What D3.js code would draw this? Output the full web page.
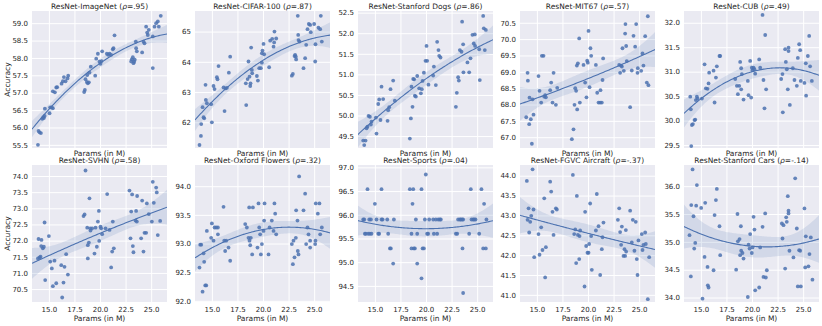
<!DOCTYPE html>
<html>
<head>
<meta charset="utf-8">
<script src="https://cdn.jsdelivr.net/npm/d3@7"></script>
<style>
  body { margin: 0; background: #fff; }
  text { font-family: "DejaVu Sans", sans-serif; fill: #262626; }
</style>
</head>
<body>
<svg id="chart" width="822" height="326"></svg>
<script>
// ---- data: [params (M), accuracy] per dataset ----
const datasetNames = ["ImageNet", "CIFAR-100", "Stanford Dogs", "MIT67", "CUB",
  "SVHN", "Oxford Flowers", "Sports", "FGVC Aircraft", "Stanford Cars"];
const rhoLabels = [".95", ".87", ".86", ".57", ".49", ".58", ".32", ".04", "-.37", "-.14"];

const imagenet = [[13.93,55.50],[13.99,55.90],[14.09,55.86],[14.22,55.84],[14.35,56.25],[14.45,56.30],[14.51,56.27],[14.58,56.33],[14.61,56.54],
  [15.07,56.41],[15.13,56.58],[15.29,56.58],[15.39,56.55],[15.39,57.04],[15.59,57.01],[15.72,57.15],[15.81,57.16],
  [16.24,57.26],[16.37,57.33],[16.47,57.45],[16.63,57.33],[16.82,57.41],[16.89,57.49],
  [18.45,57.02],[18.52,57.08],[18.58,57.39],[18.71,57.31],[18.81,57.27],[18.75,57.51],[18.97,57.58],[18.91,57.30],[19.53,57.49],[19.10,57.75],
  [19.63,57.98],[19.79,58.12],[19.95,57.89],[20.05,57.83],[20.21,58.19],[20.15,57.91],
  [20.67,58.12],[20.80,58.09],[20.93,58.12],[21.09,58.09],[21.25,58.25],[21.32,58.28],[21.42,58.65],
  [23.05,57.90],[23.11,57.96],[23.21,58.02],[23.27,57.85],[23.34,57.89],[23.40,57.95],[23.53,58.28],[23.60,58.19],[23.50,58.47],
  [24.12,58.16],[24.25,58.47],[24.35,58.42],[24.51,58.90],[24.67,58.66],[24.77,58.81],[24.61,58.73],
  [25.16,57.71],[25.16,58.62],[25.33,58.90],[25.49,59.00],[25.65,59.05],[25.75,58.90],[25.94,59.21]];

const cifar100 = [[13.79,61.25],[13.93,61.55],[13.96,61.94],[14.09,62.50],[14.19,62.17],[14.25,62.13],[14.41,62.74],[14.51,62.63],[14.38,63.24],
  [14.93,62.60],[15.00,62.00],[15.16,63.20],[15.26,63.10],[15.49,63.49],[15.55,63.42],[15.65,63.86],[16.14,63.15],[16.24,62.37],[16.34,63.12],[16.47,63.14],[16.66,63.64],[16.79,64.17],
  [18.36,62.57],[18.32,63.29],[18.49,63.43],[18.68,63.51],[18.75,63.20],[18.78,63.29],[18.58,64.01],[18.91,63.73],[18.94,63.62],[18.84,64.47],
  [19.40,63.53],[19.50,63.38],[19.63,63.79],[19.79,63.79],[19.89,63.97],[19.89,64.28],[19.95,64.37],[20.05,64.59],[20.11,64.25],
  [20.60,63.82],[20.70,64.70],[20.90,64.76],[21.09,64.64],[21.12,65.00],[21.29,64.77],[21.03,64.50],
  [22.82,63.54],[22.92,63.60],[23.08,64.19],[23.14,64.23],[23.21,64.17],[23.24,64.08],[23.40,65.52],[23.44,64.89],[23.47,64.72],[23.57,64.67],
  [23.96,63.79],[24.12,64.12],[24.22,64.56],[24.35,65.08],[24.48,65.25],[24.61,65.22],[24.67,64.98],
  [25.00,65.25],[25.10,64.01],[25.13,64.58],[25.42,65.13],[25.59,65.08],[25.65,65.52],[25.75,64.67]];

const stanfordDogs = [[13.86,49.39],[13.96,49.28],[14.09,49.39],[14.19,49.69],[14.28,49.73],[14.38,49.99],[14.51,49.97],[14.61,49.78],[14.67,49.85],
  [15.16,49.56],[15.10,49.95],[15.33,50.28],[15.42,50.39],[15.55,49.89],[15.65,50.70],[15.81,50.40],[16.24,49.87],[16.30,50.13],[16.40,50.20],[16.53,50.64],[16.79,50.85],[16.95,50.36],
  [18.42,49.44],[18.52,49.93],[18.68,50.21],[18.58,50.70],[18.75,50.89],[18.84,50.88],[18.91,50.48],[19.01,50.46],[19.14,50.96],[19.33,50.66],
  [19.50,50.54],[19.59,50.64],[19.66,50.84],[19.79,51.04],[19.95,51.33],[20.11,51.33],[20.05,51.69],[20.24,50.75],
  [20.70,50.97],[20.77,51.19],[20.96,50.74],[21.09,51.79],[21.22,51.59],[21.29,51.45],[21.42,51.41],
  [22.92,50.21],[23.01,50.55],[23.14,50.93],[23.21,50.85],[23.31,51.59],[23.47,51.55],[23.53,52.28],[23.63,51.73],[23.66,51.05],
  [24.05,51.29],[24.22,51.05],[24.35,51.39],[24.54,51.96],[24.67,51.75],[24.77,51.97],[24.80,51.69],
  [25.20,51.61],[25.26,50.86],[25.59,52.42],[25.65,52.12],[25.85,52.08],[25.75,51.59]];

const mit67 = [[13.96,67.61],[14.09,68.97],[14.12,68.73],[14.25,67.40],[14.28,68.21],[14.41,67.55],[14.51,66.80],[14.58,68.16],[14.67,67.69],
  [15.16,68.87],[15.26,68.42],[15.42,68.06],[15.49,69.49],[15.65,69.49],[15.72,68.24],[15.81,68.29],[15.88,68.22],[16.30,68.44],[16.40,68.67],[16.53,68.06],[16.63,68.97],[16.86,67.99],[16.99,68.51],
  [18.42,66.94],[18.58,67.24],[18.68,67.99],[18.75,68.50],[18.84,68.42],[18.94,67.85],[18.91,69.19],[19.01,69.26],[19.14,70.02],[19.20,68.06],
  [19.56,69.21],[19.72,68.67],[19.85,68.22],[19.92,69.34],[19.98,69.28],[20.05,70.25],[20.15,68.53],[20.24,69.72],[20.31,69.49],
  [20.77,69.21],[20.90,68.36],[21.03,68.06],[21.19,68.06],[21.35,68.06],[21.22,68.44],[21.42,68.75],[21.48,69.41],
  [23.05,69.21],[23.14,68.97],[23.24,69.19],[23.31,69.16],[23.37,69.72],[23.50,69.03],[23.63,70.17],[23.66,70.46],[23.73,69.79],[23.79,69.33],
  [24.12,67.92],[24.28,69.04],[24.45,70.10],[24.61,69.77],[24.71,70.46],[24.84,68.97],[24.87,69.11],
  [25.20,69.03],[25.33,69.56],[25.42,69.19],[25.59,70.09],[25.75,68.67],[25.91,68.59],[25.85,70.70]];

const cub = [[13.96,30.49],[14.02,30.23],[14.06,29.48],[14.12,29.91],[14.22,29.93],[14.38,30.01],[14.45,30.02],[14.51,30.42],[14.61,30.49],[14.67,30.45],
  [15.10,30.45],[15.36,31.15],[15.49,30.66],[15.65,30.65],[15.75,30.76],[15.81,30.98],[16.24,31.02],[16.34,30.37],[16.47,30.88],[16.56,31.11],[16.82,31.32],[16.89,31.32],
  [18.36,30.85],[18.52,30.71],[18.62,30.54],[18.75,30.71],[18.84,31.20],[18.94,30.64],[18.94,31.07],[19.01,30.95],[19.17,30.43],
  [19.59,30.81],[19.66,30.52],[19.82,31.22],[19.92,30.47],[19.98,31.08],[20.05,31.03],[20.15,31.08],[20.24,31.05],[20.31,30.96],
  [20.70,31.25],[20.80,31.08],[21.03,32.16],[21.12,30.83],[21.29,31.75],[21.38,30.64],[21.22,30.25],
  [22.85,30.85],[22.98,30.95],[23.01,30.17],[23.24,31.46],[23.31,31.20],[23.40,31.05],[23.50,30.64],[23.57,31.49],[23.57,31.42],[23.70,30.32],
  [23.99,31.07],[24.15,30.83],[24.38,30.71],[24.48,31.28],[24.61,31.56],[24.71,31.44],[24.77,30.81],
  [25.13,30.77],[25.26,31.17],[25.29,30.51],[25.46,31.32],[25.59,31.73],[25.68,31.11],[25.85,30.81]];

const svhn = [[13.93,71.45],[13.99,72.05],[14.09,71.48],[14.19,71.50],[14.25,71.83],[14.28,72.02],[14.41,71.76],[14.51,71.81],[14.58,72.56],[14.64,70.78],
  [15.00,72.14],[15.13,71.35],[15.29,71.14],[15.39,70.59],[15.55,71.38],[15.72,70.68],[16.21,71.24],[16.30,70.24],[16.43,70.70],[16.53,71.19],[16.69,71.58],[16.86,70.95],
  [18.39,72.76],[18.49,72.81],[18.58,74.17],[18.75,72.40],[18.81,71.45],[18.81,71.86],[18.91,71.94],[18.97,73.31],[19.04,72.38],[19.07,72.31],[19.23,72.38],
  [19.46,71.60],[19.56,72.40],[19.69,71.81],[19.79,72.59],[19.89,72.92],[19.92,71.99],[20.05,72.43],[20.11,72.38],[20.21,72.20],
  [20.54,72.38],[20.70,73.44],[20.93,72.33],[21.09,71.17],[21.19,71.66],[21.25,72.59],[21.35,71.76],
  [22.88,73.55],[22.98,72.07],[23.05,72.90],[23.14,73.43],[23.21,71.83],[23.27,71.64],[23.47,72.62],[23.60,72.59],[23.53,72.92],[23.63,73.38],
  [24.02,72.07],[24.12,73.24],[24.25,71.66],[24.35,72.24],[24.51,72.24],[24.58,73.15],[24.77,72.82],
  [25.07,72.59],[25.16,73.82],[25.26,73.17],[25.49,73.64],[25.55,73.49],[25.65,72.17],[25.88,72.61]];

const oxfordFlowers = [[13.79,92.58],[13.86,92.98],[13.96,92.98],[14.09,92.16],[14.19,92.83],[14.25,92.68],[14.35,92.27],[14.45,92.27],[14.51,93.22],
  [14.93,93.10],[15.00,93.35],[15.16,93.05],[15.26,93.28],[15.42,93.28],[15.59,93.28],[15.59,93.16],[16.14,93.64],[16.21,93.05],[16.30,92.87],[16.40,93.05],[16.63,92.93],[16.79,92.70],
  [18.26,93.34],[18.42,93.28],[18.58,93.10],[18.65,93.63],[18.68,93.05],[18.75,92.97],[18.81,93.10],[18.94,92.81],[19.01,93.63],
  [19.46,92.93],[19.56,93.70],[19.63,93.28],[19.72,93.16],[19.79,92.81],[19.89,92.99],[20.05,93.22],[20.11,93.40],[20.15,93.70],
  [20.54,92.81],[20.64,93.28],[20.86,93.40],[21.03,93.22],[21.12,93.70],[21.19,93.52],[21.29,93.16],
  [22.82,92.99],[22.92,92.64],[22.98,93.05],[23.08,92.76],[23.21,93.10],[23.24,93.58],[23.37,93.40],[23.40,92.87],[23.47,92.81],[23.53,94.17],
  [23.96,93.58],[24.12,93.87],[24.22,92.99],[24.35,93.28],[24.45,93.16],[24.61,93.05],[24.61,92.93],
  [25.10,92.99],[25.13,93.05],[25.16,93.70],[25.36,93.52],[25.52,93.70],[25.59,93.16],[25.75,93.28]];

const sports = [[13.86,95.90],[13.96,95.90],[14.02,95.60],[14.12,95.60],[14.28,96.54],[14.35,95.60],[14.45,95.90],[14.51,95.60],[14.61,95.90],[14.67,95.60],
  [15.00,96.23],[15.16,95.90],[15.33,95.60],[15.42,95.60],[15.65,96.54],[15.65,95.90],[15.75,95.90],[16.21,95.90],[16.30,95.60],[16.47,95.29],[16.56,95.29],[16.79,94.97],[16.86,95.90],
  [18.42,96.54],[18.58,95.29],[18.58,95.60],[18.68,96.23],[18.75,96.54],[18.81,95.29],[18.91,95.29],[19.01,95.90],[19.14,94.97],[19.14,95.60],
  [19.56,96.54],[19.56,94.66],[19.66,95.29],[19.79,95.29],[19.89,95.90],[19.98,96.85],[20.11,95.60],[20.21,95.60],[20.31,95.90],
  [20.70,95.90],[20.77,95.60],[20.96,95.90],[21.09,95.60],[21.19,95.90],[21.35,95.90],[21.45,95.90],
  [22.92,95.60],[23.05,95.60],[23.14,95.90],[23.31,95.90],[23.40,95.90],[23.53,95.90],[23.63,95.90],[23.57,95.29],[23.63,94.35],
  [24.22,95.60],[24.38,96.54],[24.45,95.90],[24.61,95.90],[24.71,95.90],[24.84,95.90],
  [25.20,95.60],[25.42,96.54],[25.59,95.29],[25.68,96.23],[25.85,95.29],[25.91,95.90]];

const fgvcAircraft = [[14.02,43.87],[14.09,42.89],[14.19,43.18],[14.25,42.57],[14.35,42.84],[14.45,42.99],[14.58,44.16],[14.67,43.15],[14.74,41.95],
  [15.16,42.53],[15.26,42.01],[15.42,42.70],[15.55,42.13],[15.72,43.43],[15.81,41.44],[15.88,42.20],[16.30,43.85],[16.40,43.60],[16.53,43.09],[16.63,42.51],[16.86,43.18],[16.95,43.15],
  [18.52,44.02],[18.65,42.53],[18.75,42.65],[18.84,41.80],[18.91,43.49],[19.01,42.51],[19.14,41.90],[19.17,42.48],[19.23,42.62],
  [19.66,41.21],[19.72,43.09],[19.82,42.23],[19.95,42.06],[20.05,42.06],[20.11,42.28],[20.21,43.30],[20.31,42.48],[20.37,41.63],
  [20.77,42.62],[20.86,43.54],[21.03,42.73],[21.19,41.50],[21.35,42.15],[21.42,42.45],[21.51,42.82],
  [22.92,42.89],[23.05,43.18],[23.14,42.58],[23.24,42.26],[23.31,42.72],[23.47,41.98],[23.57,42.15],[23.63,41.98],[23.70,42.63],[23.73,42.09],
  [24.12,43.12],[24.28,42.32],[24.38,42.89],[24.54,42.11],[24.67,42.84],[24.77,41.90],[24.84,41.50],[24.93,42.37],
  [25.26,42.53],[25.33,42.13],[25.42,42.26],[25.59,42.57],[25.65,42.28],[25.85,40.89],[25.98,41.95]];

const stanfordCars = [[13.89,35.12],[14.02,34.38],[14.06,35.66],[14.19,36.30],[14.28,35.46],[14.35,34.88],[14.45,34.98],[14.54,35.65],[14.61,36.02],
  [15.03,35.61],[15.16,33.98],[15.36,34.73],[15.42,35.70],[15.65,34.55],[15.68,34.22],[15.75,34.18],[16.24,34.49],[16.34,35.48],[16.47,35.75],[16.56,35.95],[16.82,35.28],[16.89,34.76],
  [18.45,34.50],[18.58,35.50],[18.62,35.01],[18.78,35.05],[18.84,34.76],[18.91,35.28],[18.94,34.84],[19.07,34.80],[19.17,34.70],
  [19.59,34.01],[19.66,34.95],[19.76,34.88],[19.82,35.14],[19.98,34.80],[20.05,34.90],[20.15,35.45],[20.24,35.22],[20.31,34.13],
  [20.80,34.90],[20.70,34.18],[21.03,35.27],[21.12,34.37],[21.29,35.51],[21.35,34.36],[21.45,34.49],
  [22.92,35.33],[22.98,35.06],[23.08,35.30],[23.24,34.52],[23.34,35.44],[23.40,35.36],[23.50,35.82],[23.57,35.56],[23.57,35.51],[23.66,34.84],
  [24.05,34.72],[24.22,36.14],[24.38,35.24],[24.48,34.20],[24.61,34.85],[24.71,34.84],[24.77,34.20],
  [25.13,35.60],[25.20,34.54],[25.26,35.10],[25.52,34.56],[25.62,34.78],[25.75,35.08],[25.91,34.32]];

const panelData = [imagenet, cifar100, stanfordDogs, mit67, cub, svhn, oxfordFlowers, sports, fgvcAircraft, stanfordCars];

// axis settings
const xTicks = [15, 17.5, 20, 22.5, 25];
const xDomain = [13.35, 26.55];
const yDomains = [[55.41,59.35],[61.15,65.68],[49.21,52.54],[66.67,70.86],[29.44,32.24],
  [70.10,74.34],[91.98,94.37],[94.16,97.05],[40.82,44.27],[33.92,36.38]];
const yTicks = [
  [55.5,56,56.5,57,57.5,58,58.5,59],
  [62,63,64,65],
  [49.5,50,50.5,51,51.5,52,52.5],
  [67,67.5,68,68.5,69,69.5,70,70.5],
  [29.5,30,30.5,31,31.5,32],
  [70.5,71,71.5,72,72.5,73,73.5,74],
  [92,92.5,93,93.5,94],
  [94.5,95,95.5,96,96.5,97],
  [41,41.5,42,42.5,43,43.5,44],
  [34,34.5,35,35.5,36]
];
const yFormats = [".1f", "d", ".1f", ".1f", ".1f", ".1f", ".1f", ".1f", ".1f", ".1f"];
const fitOrder = 2;

// ---- least squares polynomial fit with 95% CI ----
function invert(M) {
  const n = M.length;
  const A = M.map((r, i) => r.concat(d3.range(n).map(j => (i === j ? 1 : 0))));
  for (let c = 0; c < n; c++) {
    let p = c;
    for (let r = c + 1; r < n; r++) if (Math.abs(A[r][c]) > Math.abs(A[p][c])) p = r;
    [A[c], A[p]] = [A[p], A[c]];
    const piv = A[c][c];
    for (let j = 0; j < 2 * n; j++) A[c][j] /= piv;
    for (let r = 0; r < n; r++) {
      if (r === c) continue;
      const f = A[r][c];
      for (let j = 0; j < 2 * n; j++) A[r][j] -= f * A[c][j];
    }
  }
  return A.map(r => r.slice(n));
}

function polyFit(pts, order) {
  const k = order + 1;
  const mx = d3.mean(pts, p => p[0]);
  const basis = u => d3.range(k).map(j => Math.pow(u, j));
  const rows = pts.map(p => basis(p[0] - mx));
  const XtX = d3.range(k).map(i => d3.range(k).map(j => d3.sum(rows, r => r[i] * r[j])));
  const inv = invert(XtX);
  const Xty = d3.range(k).map(i => d3.sum(rows, (r, n) => r[i] * pts[n][1]));
  const beta = inv.map(row => d3.sum(row, (v, j) => v * Xty[j]));
  const pred = v => d3.sum(v, (b, j) => b * beta[j]);
  const sse = d3.sum(rows, (r, n) => (pts[n][1] - pred(r)) ** 2);
  const s2 = sse / (pts.length - k);
  const t = 1.99;
  return x => {
    const v = basis(x - mx);
    let q = 0;
    for (let i = 0; i < k; i++) for (let j = 0; j < k; j++) q += v[i] * inv[i][j] * v[j];
    const yh = pred(v), h = t * Math.sqrt(s2 * q);
    return { x: x, y: yh, lo: yh - h, hi: yh + h };
  };
}

// ---- layout ----
const W = 135, H = 137;
const lefts = [32, 195, 358, 520, 684];
const tops = [11, 165];
const blue = "#4C72B0";

const svg = d3.select("#chart");

panelData.forEach((pts, i) => {
  const col = i % 5, row = Math.floor(i / 5);
  const g = svg.append("g").attr("transform", `translate(${lefts[col]},${tops[row]})`);

  const x = d3.scaleLinear().domain(xDomain).range([0, W]);
  const y = d3.scaleLinear().domain(yDomains[i]).range([H, 0]);

  g.append("rect").attr("width", W).attr("height", H).attr("fill", "#EAEAF2");

  const clipId = "clip" + i;
  g.append("clipPath").attr("id", clipId).append("rect").attr("width", W).attr("height", H);

  // y grid + labels
  const gy = g.append("g")
    .call(d3.axisLeft(y).tickValues(yTicks[i]).tickSize(-W).tickPadding(4).tickFormat(d3.format(yFormats[i])));
  gy.select(".domain").remove();
  gy.selectAll("line").attr("stroke", "#fff").attr("stroke-width", 1);
  gy.selectAll("text").attr("font-size", 7).attr("font-family", "DejaVu Sans").attr("fill", "#262626");

  // x grid (+ labels on bottom row)
  const gx = g.append("g").attr("transform", `translate(0,${H})`)
    .call(d3.axisBottom(x).tickValues(xTicks).tickSize(-H).tickPadding(5)
      .tickFormat(row === 1 ? d3.format(".1f") : () => ""));
  gx.select(".domain").remove();
  gx.selectAll("line").attr("stroke", "#fff").attr("stroke-width", 1);
  gx.selectAll("text").attr("font-size", 7).attr("font-family", "DejaVu Sans").attr("fill", "#262626");

  // fit and confidence band
  const f = polyFit(pts, fitOrder);
  const curve = d3.range(0, 101).map(s => f(xDomain[0] + (xDomain[1] - xDomain[0]) * s / 100));
  const fitG = g.append("g").attr("clip-path", `url(#${clipId})`);

  fitG.append("path")
    .datum(curve)
    .attr("fill", blue).attr("fill-opacity", 0.15)
    .attr("d", d3.area().x(d => x(d.x)).y0(d => y(d.lo)).y1(d => y(d.hi)));

  g.append("g").selectAll("circle")
    .data(pts)
    .enter()
    .append("circle")
    .attr("cx", d => x(d[0]))
    .attr("cy", d => y(d[1]))
    .attr("r", 1.9)
    .attr("fill", blue)
    .attr("fill-opacity", 0.85);

  fitG.append("path")
    .datum(curve)
    .attr("fill", "none").attr("stroke", blue).attr("stroke-width", 1.1)
    .attr("d", d3.line().x(d => x(d.x)).y(d => y(d.y)));

  // title
  const title = g.append("text")
    .attr("x", W / 2).attr("y", -2.2)
    .attr("text-anchor", "middle").attr("font-size", 7.5);
  title.append("tspan").text(`ResNet-${datasetNames[i]} (`);
  title.append("tspan").attr("font-style", "italic").text("ρ");
  title.append("tspan").text(`=${rhoLabels[i]})`);

  // x label
  g.append("text")
    .attr("x", W / 2).attr("y", row === 1 ? H + 18.7 : H + 8.4)
    .attr("text-anchor", "middle").attr("font-size", 7.5)
    .text("Params (in M)");

  // y label
  if (col === 0) {
    g.append("text")
      .attr("transform", `translate(${-22},${H / 2}) rotate(-90)`)
      .attr("text-anchor", "middle").attr("font-size", 7.5)
      .text("Accuracy");
  }
});
</script>
</body>
</html>
